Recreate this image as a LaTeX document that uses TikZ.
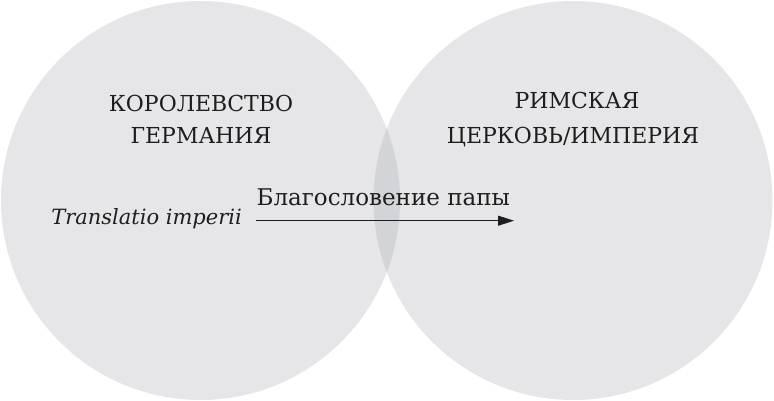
\documentclass[tikz,border=0pt]{standalone}
\usepackage{fontspec}
\setmainfont{DejaVu Serif}
\newfontfamily\serifx{DejaVu Serif}
\usetikzlibrary{arrows.meta}
\definecolor{circfill}{RGB}{230,230,232}
\definecolor{lensfill}{RGB}{211,212,216}
\definecolor{inkc}{RGB}{30,30,30}
\tikzset{
  region/.style={circle, minimum size=399pt, inner sep=0pt, fill=circfill},
  caps/.style={anchor=base, font=\serifx\fontsize{22}{28}\selectfont, text=inkc, inner sep=0pt},
  lbl/.style={font=\serifx\fontsize{23}{28}\selectfont, text=inkc, inner sep=0pt},
  flow/.style={draw=inkc, line width=1pt, -{Triangle[length=16pt,width=10pt]}}
}
\begin{document}
\begin{tikzpicture}[x=1pt,y=1pt]
\useasboundingbox (0,0) rectangle (774,401);
\node[region] (L) at (200.5,200.5) {};
\node[region] (R) at (573,200.5) {};
\begin{scope}
  \clip (200.5,200.5) circle[radius=199.5pt];
  \fill[lensfill] (573,200.5) circle[radius=199.5pt];
\end{scope}
\node[caps] (k1) at (201,289.5) {КОРОЛЕВСТВО};
\node[caps] (k2) at (201,257.7) {ГЕРМАНИЯ};
\node[caps] (r1) at (577,292.7) {РИМСКАЯ};
\node[caps] (r2) at (573,257.7) {ЦЕРКОВЬ/ИМПЕРИЯ};
\node[lbl, anchor=base east, font=\serifx\itshape\fontsize{21}{28}\selectfont] (ti) at (242,176.5) {Translatio imperii};
\node[lbl, anchor=base west] (bp) at (256.5,195.3) {Благословение папы};
\coordinate (as) at (256,180.3);
\coordinate (ae) at (514,180.3);
\draw[flow] (as) -- (ae);
\end{tikzpicture}
\end{document}
